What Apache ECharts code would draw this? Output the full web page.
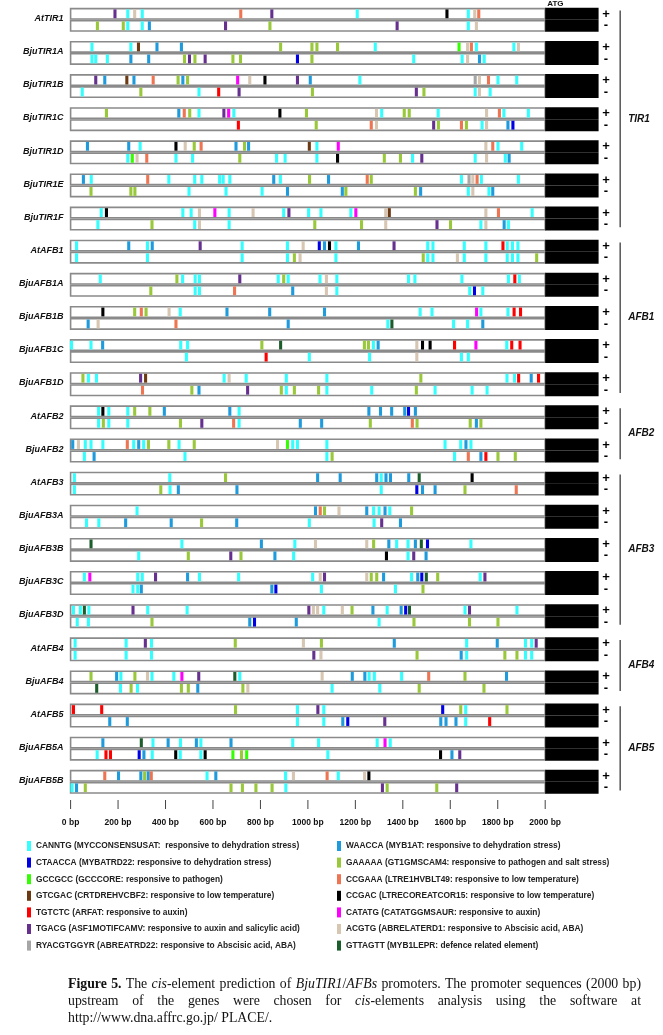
<!DOCTYPE html>
<html><head><meta charset="utf-8">
<script src="https://cdn.jsdelivr.net/npm/echarts@6/dist/echarts.min.js"></script>
<style>
html,body{margin:0;padding:0;background:#fff;}
#chart{position:absolute;left:0;top:0;width:663px;height:1035px;}
.cap{position:absolute;left:68px;width:573px;font-family:"Liberation Serif","Times New Roman",serif;font-size:13.8px;line-height:17px;color:#111;white-space:nowrap;}
.j{text-align:justify;text-align-last:justify;white-space:normal;}
</style></head><body>
<div id="chart"></div>
<div class="cap j" style="top:975px"><b>Figure 5.</b> The <i>cis</i>-element prediction of <i>BjuTIR1</i>/<i>AFBs</i> promoters. The promoter sequences (2000 bp)</div>
<div class="cap j" style="top:992px">upstream of the genes were chosen for <i>cis</i>-elements analysis using the software at</div>
<div class="cap" style="top:1009px">http://www.dna.affrc.go.jp/ PLACE/.</div>
<script>
// ---------------- DATA ----------------
const genes = ['AtTIR1','BjuTIR1A','BjuTIR1B','BjuTIR1C','BjuTIR1D','BjuTIR1E','BjuTIR1F',
  'AtAFB1','BjuAFB1A','BjuAFB1B','BjuAFB1C','BjuAFB1D','AtAFB2','BjuAFB2',
  'AtAFB3','BjuAFB3A','BjuAFB3B','BjuAFB3C','BjuAFB3D','AtAFB4','BjuAFB4',
  'AtAFB5','BjuAFB5A','BjuAFB5B'];
const typeCodes = ['C','DB','G','BR','R','P','GR','B','O','S','K','M','T','DG'];
const typeNames = [
  'CANNTG (MYCCONSENSUSAT:  responsive to dehydration stress)',
  'CTAACCA (MYBATRD22: responsive to dehydration stress)',
  'GCCGCC (GCCCORE: responsive to pathogen)',
  'GTCGAC (CRTDREHVCBF2: responsive to low temperature)',
  'TGTCTC (ARFAT: responsive to auxin)',
  'TGACG (ASF1MOTIFCAMV: responsive to auxin and salicylic acid)',
  'RYACGTGGYR (ABREATRD22: responsive to Abscisic acid, ABA)',
  'WAACCA (MYB1AT: responsive to dehydration stress)',
  'GAAAAA (GT1GMSCAM4: responsive to pathogen and salt stress)',
  'CCGAAA (LTRE1HVBLT49: responsive to low temperature)',
  'CCGAC (LTRECOREATCOR15: responsive to low temperature)',
  'CATATG (CATATGGMSAUR: responsive to auxin)',
  'ACGTG (ABRELATERD1: responsive to Abscisic acid, ABA)',
  'GTTAGTT (MYB1LEPR: defence related element)'];
const typeColors = ['#33FFFF','#0000E6','#33FF00','#6B3A12','#FF0000','#66308F','#A6A6A6',
  '#1E9BDD','#99C93A','#EE7452','#000000','#FF00FF','#D6C6B2','#1B5E2C'];
const groupNames = ['TIR1','AFB1','AFB2','AFB3','AFB4','AFB5'];
const groupFirst = [0,7,12,14,19,21];
const groupLast = [6,11,13,18,20,23];
const tickValues = [0,200,400,600,800,1000,1200,1400,1600,1800,2000];

// [position bp, element]
const AtTIR1_p = [[187,'P'],[241,'C'],[270,'T'],[302,'C'],[717,'S'],[848,'P'],[1208,'C'],[1586,'K'],[1676,'C'],[1703,'T'],[1720,'S']];
const AtTIR1_m = [[113,'O'],[222,'O'],[241,'C'],[302,'C'],[332,'B'],[653,'P'],[840,'O'],[1376,'P'],[1676,'C'],[1710,'T']];
const BjuTIR1A_p = [[90,'C'],[254,'C'],[286,'BR'],[364,'B'],[467,'B'],[885,'O'],[1017,'O'],[1038,'O'],[1125,'O'],[1284,'C'],[1637,'G'],[1673,'T'],[1689,'S'],[1710,'C'],[1868,'C'],[1887,'T']];
const BjuTIR1A_m = [[90,'C'],[106,'C'],[155,'C'],[254,'B'],[329,'B'],[480,'O'],[501,'P'],[524,'O'],[567,'P'],[684,'O'],[716,'O'],[956,'DB'],[1017,'O'],[1446,'C'],[1650,'C'],[1673,'T'],[1723,'B'],[1743,'C']];
const BjuTIR1B_p = [[106,'P'],[144,'B'],[237,'BR'],[267,'B'],[348,'S'],[453,'O'],[473,'B'],[493,'O'],[704,'M'],[755,'T'],[819,'K'],[956,'P'],[1010,'B'],[1219,'C'],[1705,'GR'],[1723,'T'],[1761,'S'],[1801,'C'],[1880,'C']];
const BjuTIR1B_m = [[49,'C'],[296,'O'],[541,'C'],[624,'R'],[710,'P'],[1019,'O'],[1457,'P'],[1489,'O'],[1705,'C'],[1723,'T'],[1768,'C']];
const BjuTIR1C_p = [[151,'O'],[456,'B'],[479,'S'],[502,'O'],[541,'C'],[646,'P'],[666,'M'],[688,'C'],[882,'K'],[994,'O'],[1289,'T'],[1311,'C'],[1406,'O'],[1427,'O'],[1549,'C'],[1753,'T'],[1807,'S'],[1826,'C'],[1929,'C']];
const BjuTIR1C_m = [[707,'R'],[1035,'O'],[1267,'S'],[1289,'T'],[1530,'P'],[1550,'O'],[1647,'S'],[1668,'O'],[1734,'C'],[1753,'T'],[1843,'B'],[1864,'DB']];
const BjuTIR1D_p = [[71,'B'],[245,'B'],[293,'C'],[444,'K'],[483,'T'],[521,'O'],[550,'S'],[697,'B'],[733,'O'],[750,'B'],[1006,'BR'],[1038,'C'],[1128,'M'],[1750,'T'],[1779,'S'],[1801,'C'],[1901,'C']];
const BjuTIR1D_m = [[241,'C'],[260,'G'],[280,'T'],[321,'S'],[444,'C'],[514,'C'],[713,'O'],[868,'C'],[904,'C'],[1038,'C'],[1125,'K'],[1322,'O'],[1390,'O'],[1441,'C'],[1480,'P'],[1705,'C'],[1753,'T'],[1832,'C'],[1848,'B']];
const BjuTIR1E_p = [[54,'B'],[87,'C'],[325,'S'],[414,'C'],[523,'C'],[553,'C'],[628,'C'],[643,'C'],[671,'C'],[856,'B'],[884,'C'],[1007,'O'],[1087,'B'],[1250,'S'],[1267,'O'],[1647,'C'],[1679,'GR'],[1695,'T'],[1713,'S'],[1731,'C'],[1887,'C']];
const BjuTIR1E_m = [[86,'O'],[254,'O'],[271,'O'],[499,'C'],[655,'C'],[807,'C'],[914,'B'],[1145,'B'],[1160,'O'],[1453,'O'],[1475,'B'],[1676,'C'],[1695,'T'],[1763,'C'],[1779,'B']];
const BjuTIR1F_p = [[129,'C'],[151,'K'],[473,'C'],[508,'C'],[543,'T'],[608,'M'],[668,'C'],[769,'T'],[898,'C'],[920,'P'],[1003,'C'],[1055,'C'],[1181,'C'],[1202,'M'],[1328,'T'],[1343,'BR'],[1750,'T'],[1803,'S'],[1945,'C']];
const BjuTIR1F_m = [[115,'C'],[343,'O'],[523,'C'],[543,'T'],[668,'C'],[1029,'O'],[1226,'O'],[1328,'T'],[1544,'P'],[1601,'O'],[1729,'C'],[1750,'T'],[1827,'B'],[1845,'C']];
const AtAFB1_p = [[25,'C'],[245,'B'],[324,'C'],[344,'B'],[546,'P'],[723,'C'],[914,'C'],[980,'T'],[1048,'DB'],[1070,'B'],[1091,'K'],[1118,'C'],[1213,'B'],[1363,'P'],[1505,'C'],[1527,'C'],[1659,'C'],[1750,'C'],[1822,'R'],[1840,'C'],[1862,'C'],[1885,'C']];
const AtAFB1_m = [[25,'C'],[324,'C'],[723,'C'],[914,'C'],[943,'O'],[967,'T'],[1118,'C'],[1486,'O'],[1505,'C'],[1527,'C'],[1630,'T'],[1659,'C'],[1750,'C'],[1840,'C'],[1862,'C'],[1885,'C'],[1964,'O']];
const BjuAFB1A_p = [[125,'C'],[448,'O'],[472,'C'],[525,'C'],[543,'C'],[713,'P'],[875,'C'],[898,'O'],[917,'C'],[1051,'C'],[1078,'T'],[1122,'C'],[1424,'C'],[1451,'C'],[1649,'C'],[1845,'C'],[1872,'R'],[1891,'C']];
const BjuAFB1A_m = [[338,'O'],[525,'C'],[543,'C'],[691,'S'],[936,'B'],[1078,'T'],[1122,'C'],[1682,'C'],[1702,'DB'],[1737,'C']];
const BjuAFB1B_p = [[136,'K'],[270,'O'],[298,'S'],[318,'O'],[415,'T'],[462,'C'],[659,'B'],[839,'B'],[1070,'B'],[1473,'C'],[1523,'C'],[1711,'M'],[1729,'C'],[1843,'C'],[1869,'R'],[1896,'R']];
const BjuAFB1B_m = [[74,'B'],[116,'T'],[444,'S'],[917,'B'],[1337,'C'],[1354,'DG'],[1614,'C'],[1673,'C'],[1737,'B']];
const BjuAFB1C_p = [[4,'C'],[86,'C'],[135,'B'],[464,'C'],[493,'C'],[806,'O'],[885,'DG'],[1238,'O'],[1255,'O'],[1276,'C'],[1296,'B'],[1459,'T'],[1483,'K'],[1515,'K'],[1618,'R'],[1708,'M'],[1838,'C'],[1859,'R'],[1894,'R']];
const BjuAFB1C_m = [[488,'C'],[824,'R'],[1006,'C'],[1260,'C'],[1459,'T'],[1647,'C'],[1676,'C']];
const BjuAFB1D_p = [[52,'O'],[75,'C'],[109,'C'],[295,'P'],[316,'BR'],[647,'C'],[668,'T'],[740,'C'],[909,'C'],[1080,'C'],[1476,'O'],[1839,'C'],[1871,'C'],[1888,'R'],[1941,'B'],[1972,'R']];
const BjuAFB1D_m = [[303,'S'],[511,'O'],[541,'B'],[746,'P'],[888,'O'],[909,'C'],[943,'O'],[1045,'O'],[1080,'C'],[1269,'C'],[1457,'O'],[1536,'C'],[1692,'C'],[1755,'C']];
const AtAFB2_p = [[118,'C'],[136,'K'],[161,'C'],[241,'C'],[270,'O'],[334,'O'],[395,'B'],[671,'B'],[710,'C'],[1257,'B'],[1306,'B'],[1353,'B'],[1408,'B'],[1424,'DB'],[1453,'B']];
const AtAFB2_m = [[118,'C'],[138,'O'],[161,'C'],[241,'C'],[463,'O'],[553,'P'],[687,'S'],[710,'C'],[968,'B'],[1058,'B'],[1263,'O'],[1440,'S'],[1460,'O'],[1684,'O'],[1710,'B'],[1729,'O']];
const BjuAFB2_p = [[9,'B'],[33,'T'],[62,'C'],[86,'C'],[136,'C'],[239,'S'],[266,'C'],[287,'B'],[308,'C'],[328,'O'],[414,'O'],[457,'C'],[521,'O'],[872,'T'],[914,'G'],[936,'C'],[956,'C'],[1080,'C'],[1578,'C'],[1644,'C'],[1666,'B'],[1687,'C']];
const BjuAFB2_m = [[58,'C'],[99,'B'],[482,'C'],[1080,'C'],[1102,'O'],[1618,'C'],[1676,'S'],[1729,'B'],[1750,'R'],[1801,'O'],[1874,'O']];
const AtAFB3_p = [[16,'C'],[418,'C'],[653,'O'],[1041,'B'],[1136,'B'],[1290,'B'],[1309,'C'],[1329,'B'],[1348,'B'],[1425,'B'],[1469,'DG'],[1692,'K']];
const AtAFB3_m = [[16,'C'],[380,'O'],[419,'C'],[454,'B'],[701,'B'],[1309,'C'],[1459,'DB'],[1483,'B'],[1536,'B'],[1662,'O'],[1878,'S']];
const BjuAFB3A_p = [[280,'C'],[1032,'B'],[1052,'S'],[1070,'O'],[1131,'T'],[1248,'B'],[1277,'C'],[1300,'C'],[1325,'B'],[1345,'C'],[1437,'O']];
const BjuAFB3A_m = [[67,'C'],[119,'C'],[232,'B'],[424,'B'],[552,'O'],[700,'B'],[1006,'C'],[1279,'C'],[1311,'P'],[1390,'B']];
const BjuAFB3B_p = [[86,'DG'],[469,'C'],[804,'B'],[945,'C'],[1032,'T'],[1248,'T'],[1277,'O'],[1341,'B'],[1374,'C'],[1422,'C'],[1453,'B'],[1478,'DG'],[1504,'DB'],[1687,'C']];
const BjuAFB3B_m = [[287,'C'],[496,'O'],[675,'P'],[718,'O'],[861,'B'],[940,'C'],[1331,'K'],[1422,'C'],[1446,'P'],[1498,'B']];
const BjuAFB3C_p = [[58,'C'],[81,'M'],[283,'C'],[302,'C'],[358,'P'],[493,'B'],[543,'C'],[708,'C'],[1020,'C'],[1052,'T'],[1070,'P'],[1248,'T'],[1267,'O'],[1290,'O'],[1319,'B'],[1437,'C'],[1463,'B'],[1480,'DB'],[1499,'DG'],[1547,'O'],[1726,'C'],[1746,'P']];
const BjuAFB3C_m = [[263,'C'],[283,'C'],[298,'B'],[848,'B'],[865,'DB'],[1057,'C'],[1369,'C'],[1485,'O']];
const BjuAFB3D_p = [[12,'C'],[41,'C'],[58,'DG'],[77,'C'],[263,'P'],[325,'C'],[491,'C'],[1004,'P'],[1023,'T'],[1041,'T'],[1067,'C'],[1145,'T'],[1186,'O'],[1274,'B'],[1334,'C'],[1393,'B'],[1412,'DB'],[1428,'DG'],[1662,'C'],[1681,'P'],[1881,'C']];
const BjuAFB3D_m = [[28,'C'],[75,'C'],[343,'O'],[755,'B'],[775,'DB'],[951,'B'],[1300,'C'],[1447,'O'],[1681,'O'],[1801,'O']];
const AtAFB4_p = [[19,'C'],[234,'C'],[315,'P'],[341,'C'],[694,'O'],[981,'T'],[1057,'O'],[1364,'B'],[1669,'C'],[1798,'B'],[1917,'C'],[1943,'C'],[1962,'P']];
const AtAFB4_m = [[19,'C'],[234,'C'],[341,'C'],[1025,'P'],[1055,'T'],[1460,'O'],[1646,'B'],[1669,'C'],[1830,'O'],[1881,'O'],[1917,'C'],[1943,'C']];
const BjuAFB4_p = [[86,'O'],[194,'B'],[212,'C'],[271,'O'],[324,'T'],[343,'C'],[435,'C'],[469,'M'],[540,'P'],[692,'DG'],[713,'C'],[1060,'T'],[1187,'B'],[1240,'B'],[1258,'C'],[1280,'C'],[1395,'C'],[1509,'S'],[1662,'O'],[1837,'B']];
const BjuAFB4_m = [[110,'DG'],[210,'C'],[255,'O'],[282,'C'],[467,'O'],[496,'O'],[536,'B'],[726,'O'],[747,'T'],[1102,'C'],[1303,'C'],[1469,'O'],[1742,'O']];
const AtAFB5_p = [[12,'R'],[131,'R'],[695,'O'],[956,'C'],[1042,'P'],[1067,'C'],[1568,'DB'],[1644,'O'],[1665,'C'],[1839,'O']];
const AtAFB5_m = [[165,'B'],[239,'B'],[956,'C'],[1067,'C'],[1147,'B'],[1168,'DB'],[1324,'P'],[1560,'B'],[1582,'B'],[1624,'B'],[1665,'C'],[1766,'R']];
const BjuAFB5A_p = [[136,'B'],[298,'DG'],[347,'C'],[411,'B'],[463,'C'],[530,'B'],[549,'C'],[676,'B'],[936,'C'],[1045,'C'],[1292,'C'],[1325,'M'],[1347,'C']];
const BjuAFB5A_m = [[112,'C'],[149,'R'],[168,'R'],[289,'DB'],[309,'B'],[344,'C'],[443,'K'],[462,'C'],[549,'C'],[567,'K'],[684,'G'],[720,'O'],[742,'G'],[1084,'C'],[1559,'K'],[1607,'B'],[1640,'P']];
const BjuAFB5B_p = [[144,'S'],[202,'B'],[296,'B'],[312,'O'],[327,'B'],[340,'S'],[575,'C'],[612,'B'],[906,'C'],[939,'T'],[1081,'S'],[1128,'C'],[1239,'T'],[1257,'K']];
const BjuAFB5B_m = [[6,'C'],[25,'B'],[62,'O'],[676,'O'],[724,'O'],[781,'O'],[849,'O'],[907,'C'],[1314,'P'],[1334,'O'],[1543,'O'],[1627,'P']];

const plusStrands = [AtTIR1_p,BjuTIR1A_p,BjuTIR1B_p,BjuTIR1C_p,BjuTIR1D_p,BjuTIR1E_p,BjuTIR1F_p,
  AtAFB1_p,BjuAFB1A_p,BjuAFB1B_p,BjuAFB1C_p,BjuAFB1D_p,AtAFB2_p,BjuAFB2_p,
  AtAFB3_p,BjuAFB3A_p,BjuAFB3B_p,BjuAFB3C_p,BjuAFB3D_p,AtAFB4_p,BjuAFB4_p,
  AtAFB5_p,BjuAFB5A_p,BjuAFB5B_p];
const minusStrands = [AtTIR1_m,BjuTIR1A_m,BjuTIR1B_m,BjuTIR1C_m,BjuTIR1D_m,BjuTIR1E_m,BjuTIR1F_m,
  AtAFB1_m,BjuAFB1A_m,BjuAFB1B_m,BjuAFB1C_m,BjuAFB1D_m,AtAFB2_m,BjuAFB2_m,
  AtAFB3_m,BjuAFB3A_m,BjuAFB3B_m,BjuAFB3C_m,BjuAFB3D_m,AtAFB4_m,BjuAFB4_m,
  AtAFB5_m,BjuAFB5A_m,BjuAFB5B_m];

// ---------------- LAYOUT ----------------
const STRAND_H = 0.314, MINUS_OFF = 0.362, LABEL_Y = 0.30;
const PROMOTER_END = 2000, ATG_END = 2225, SIGN_X = 2256, BRACKET_X = 2316;
const MARK_W = 13;
const FONT = 'Liberation Sans, Arial, sans-serif';
const Y_MAX = genes.length - 1 + MINUS_OFF + STRAND_H;

const chart = echarts.init(document.getElementById('chart'), null, {renderer: 'canvas'});

const frameData = [];
genes.forEach((g, i) => { frameData.push([i, 0]); frameData.push([i, 1]); });

function strandY(g, s) { const y0 = g + (s ? MINUS_OFF : 0); return [y0, y0 + STRAND_H]; }

function frameItem(params, api) {
  const g = api.value(0), s = api.value(1);
  const [y0, y1] = strandY(g, s);
  const a = api.coord([0, y0]), b = api.coord([PROMOTER_END, y1]), c = api.coord([ATG_END, y1]);
  const sp = api.coord([SIGN_X, (y0 + y1) / 2]);
  return {type: 'group', children: [
    {type: 'rect', shape: {x: a[0], y: a[1], width: b[0] - a[0], height: b[1] - a[1]},
      style: {fill: '#fff', stroke: '#8a8a8a', lineWidth: 1.6}},
    {type: 'rect', shape: {x: b[0], y: a[1] - 0.8, width: c[0] - b[0], height: b[1] - a[1] + 1.6},
      style: {fill: '#000'}},
    {type: 'text', x: sp[0], y: sp[1] + (s ? 0 : 0.5), style: {text: s ? '-' : '+', fill: '#000',
      font: 'bold 13px ' + FONT, align: 'center', verticalAlign: 'middle'}}
  ]};
}

function markSeries(ti) {
  const data = [];
  genes.forEach((g, gi) => {
    plusStrands[gi].forEach(m => { if (m[1] === typeCodes[ti]) data.push([m[0], gi, 0]); });
    minusStrands[gi].forEach(m => { if (m[1] === typeCodes[ti]) data.push([m[0], gi, 1]); });
  });
  return {
    type: 'custom', name: typeNames[ti], coordinateSystem: 'cartesian2d', z: 3,
    itemStyle: {color: typeColors[ti]}, data: data, silent: true,
    renderItem: function (params, api) {
      const bp = api.value(0), g = api.value(1), s = api.value(2);
      const [y0, y1] = strandY(g, s);
      const p0 = api.coord([bp - MARK_W / 2, y0]), p1 = api.coord([bp + MARK_W / 2, y1]);
      return {type: 'rect', shape: {x: p0[0], y: p0[1] + 0.8, width: p1[0] - p0[0], height: p1[1] - p0[1] - 1.6},
        style: {fill: typeColors[ti]}};
    }
  };
}

const series = [
  {type: 'custom', name: 'frames', coordinateSystem: 'cartesian2d', z: 1, clip: false, silent: true,
    data: frameData, renderItem: frameItem},
  {type: 'custom', name: 'geneLabels', coordinateSystem: 'cartesian2d', z: 4, clip: false, silent: true,
    data: genes.map((g, i) => [i]),
    renderItem: function (params, api) {
      const i = api.value(0);
      const p = api.coord([0, i + LABEL_Y]);
      const children = [{type: 'text', x: p[0] - 7, y: p[1], style: {text: genes[i], fill: '#111',
        font: 'italic bold 9px ' + FONT, align: 'right', verticalAlign: 'middle'}}];
      if (i === 0) {
        const q = api.coord([PROMOTER_END, 0]);
        children.push({type: 'text', x: q[0] + 2, y: q[1] - 1, style: {text: 'ATG', fill: '#111',
          font: 'bold 8px ' + FONT, align: 'left', verticalAlign: 'bottom'}});
      }
      return {type: 'group', children: children};
    }},
  {type: 'custom', name: 'ticks', coordinateSystem: 'cartesian2d', z: 4, clip: false, silent: true,
    data: tickValues.map(v => [v]),
    renderItem: function (params, api) {
      const p = api.coord([api.value(0), Y_MAX]);
      return {type: 'line', shape: {x1: p[0], y1: p[1] + 7, x2: p[0], y2: p[1] + 16},
        style: {stroke: '#444', lineWidth: 1}};
    }},
  {type: 'custom', name: 'brackets', coordinateSystem: 'cartesian2d', z: 4, clip: false, silent: true,
    data: groupNames.map((n, i) => [groupFirst[i], groupLast[i], i]),
    renderItem: function (params, api) {
      const a = api.coord([BRACKET_X, api.value(0) + 0.06]);
      const b = api.coord([BRACKET_X, api.value(1) + 0.6]);
      return {type: 'group', children: [
        {type: 'line', shape: {x1: a[0], y1: a[1], x2: b[0], y2: b[1]}, style: {stroke: '#555', lineWidth: 1.5}},
        {type: 'text', x: a[0] + 8, y: (a[1] + b[1]) / 2, style: {text: groupNames[api.value(2)], fill: '#111',
          font: 'italic bold 10px ' + FONT, align: 'left', verticalAlign: 'middle'}}
      ]};
    }}
];
typeNames.forEach((n, i) => series.push(markSeries(i)));

const legendBase = {orient: 'vertical', icon: 'rect', itemWidth: 4, itemHeight: 10, itemGap: 6.6,
  selectedMode: false, padding: 0, top: 841,
  textStyle: {fontSize: 8.35, fontWeight: 'bold', color: '#222', fontFamily: FONT}};

chart.setOption({
  animation: false,
  backgroundColor: '#fff',
  grid: {left: 70.6, right: 117.8, top: 8.6, bottom: 242, containLabel: false, outerBoundsMode: 'none'},
  xAxis: {type: 'value', min: tickValues[0], max: tickValues[tickValues.length - 1], interval: 200, offset: 7,
    axisLine: {show: false}, splitLine: {show: false}, axisTick: {show: false},
    axisLabel: {formatter: v => v + ' bp', fontSize: 8.5, fontWeight: 'bold', color: '#111', margin: 18, fontFamily: FONT}},
  yAxis: {type: 'value', min: 0, max: Y_MAX, inverse: true, show: false},
  legend: [
    Object.assign({}, legendBase, {left: 27, data: typeNames.slice(0, 7)}),
    Object.assign({}, legendBase, {left: 337, data: typeNames.slice(7)})
  ],
  series: series
});
</script>
</body></html>
